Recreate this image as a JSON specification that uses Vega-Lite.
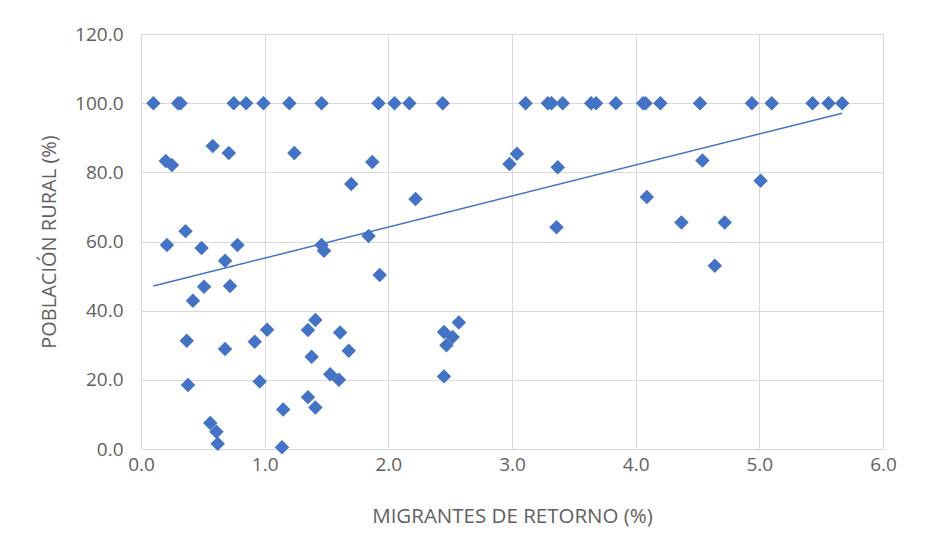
{
  "$schema": "https://vega.github.io/schema/vega-lite/v6.json",
  "width": 742,
  "height": 415,
  "autosize": {"type": "none"},
  "padding": {"left": 141, "top": 34, "right": 46, "bottom": 94},
  "background": "white",
  "config": {
    "view": {"stroke": null},
    "font": "Open Sans",
    "axis": {
      "gridColor": "#d9d9d9",
      "gridWidth": 1,
      "domain": false,
      "ticks": false,
      "labelColor": "#5f5f5f",
      "titleColor": "#5f5f5f",
      "labelFontSize": 19,
      "titleFontSize": 20.5,
      "titleFontWeight": "normal",
      "labelFont": "Open Sans",
      "titleFont": "Open Sans",
      "labelFlush": false
    }
  },
  "data": {
    "values": [
      {"x": 0.10, "y": 100}, {"x": 0.30, "y": 100}, {"x": 0.32, "y": 100}, {"x": 0.75, "y": 100},
      {"x": 0.85, "y": 100}, {"x": 0.99, "y": 100}, {"x": 1.20, "y": 100}, {"x": 1.46, "y": 100},
      {"x": 1.92, "y": 100}, {"x": 2.05, "y": 100}, {"x": 2.17, "y": 100}, {"x": 2.44, "y": 100},
      {"x": 3.11, "y": 100}, {"x": 3.29, "y": 100}, {"x": 3.32, "y": 100}, {"x": 3.41, "y": 100},
      {"x": 3.64, "y": 100}, {"x": 3.68, "y": 100}, {"x": 3.84, "y": 100}, {"x": 4.06, "y": 100},
      {"x": 4.08, "y": 100}, {"x": 4.20, "y": 100}, {"x": 4.52, "y": 100}, {"x": 4.94, "y": 100},
      {"x": 5.10, "y": 100}, {"x": 5.43, "y": 100}, {"x": 5.56, "y": 100}, {"x": 5.67, "y": 100},
      {"x": 0.20, "y": 83.3}, {"x": 0.25, "y": 82.1}, {"x": 0.58, "y": 87.6}, {"x": 0.71, "y": 85.6},
      {"x": 1.24, "y": 85.6}, {"x": 1.87, "y": 83.0}, {"x": 1.70, "y": 76.6}, {"x": 2.22, "y": 72.3},
      {"x": 0.21, "y": 59.0}, {"x": 0.36, "y": 63.0}, {"x": 0.49, "y": 58.1}, {"x": 0.78, "y": 59.0},
      {"x": 0.68, "y": 54.4}, {"x": 0.72, "y": 47.1}, {"x": 0.51, "y": 46.9}, {"x": 0.42, "y": 42.9},
      {"x": 1.46, "y": 59.0}, {"x": 1.48, "y": 57.3}, {"x": 1.93, "y": 50.3}, {"x": 1.84, "y": 61.6},
      {"x": 0.37, "y": 31.3}, {"x": 0.38, "y": 18.5}, {"x": 0.56, "y": 7.5}, {"x": 0.61, "y": 5.0},
      {"x": 0.62, "y": 1.5}, {"x": 0.68, "y": 28.9}, {"x": 0.92, "y": 31.0}, {"x": 1.02, "y": 34.5},
      {"x": 0.96, "y": 19.5}, {"x": 1.15, "y": 11.4}, {"x": 1.14, "y": 0.5}, {"x": 1.35, "y": 34.4},
      {"x": 1.41, "y": 37.3}, {"x": 1.38, "y": 26.7}, {"x": 1.35, "y": 15.0}, {"x": 1.41, "y": 12.0},
      {"x": 1.61, "y": 33.7}, {"x": 1.68, "y": 28.4}, {"x": 1.53, "y": 21.6}, {"x": 1.60, "y": 20.0},
      {"x": 2.45, "y": 33.8}, {"x": 2.47, "y": 30.0}, {"x": 2.52, "y": 32.4}, {"x": 2.57, "y": 36.6},
      {"x": 2.45, "y": 21.0},
      {"x": 2.98, "y": 82.4}, {"x": 3.04, "y": 85.4}, {"x": 3.37, "y": 81.5}, {"x": 3.36, "y": 64.1},
      {"x": 4.09, "y": 72.9}, {"x": 4.37, "y": 65.5}, {"x": 4.54, "y": 83.4}, {"x": 4.64, "y": 53.0},
      {"x": 4.72, "y": 65.5}, {"x": 5.01, "y": 77.6}
    ]
  },
  "layer": [
    {
      "mark": {"type": "point", "shape": "diamond", "filled": true, "size": 210, "color": "#4472C4", "opacity": 1},
      "encoding": {
        "x": {"field": "x", "type": "quantitative", "title": "MIGRANTES DE RETORNO (%)",
              "scale": {"domain": [0, 6], "nice": false, "zero": false},
              "axis": {"values": [0, 1, 2, 3, 4, 5, 6], "format": ".1f", "labelPadding": 6, "titlePadding": 32}},
        "y": {"field": "y", "type": "quantitative", "title": "POBLACIÓN RURAL (%)",
              "scale": {"domain": [0, 120], "nice": false},
              "axis": {"values": [0, 20, 40, 60, 80, 100, 120], "format": ".1f", "labelPadding": 18, "titlePadding": 15, "titleFontSize": 20}}
      }
    },
    {
      "transform": [{"regression": "y", "on": "x"}],
      "mark": {"type": "line", "color": "#4472C4", "strokeWidth": 1.5},
      "encoding": {
        "x": {"field": "x", "type": "quantitative"},
        "y": {"field": "y", "type": "quantitative"}
      }
    }
  ]
}
